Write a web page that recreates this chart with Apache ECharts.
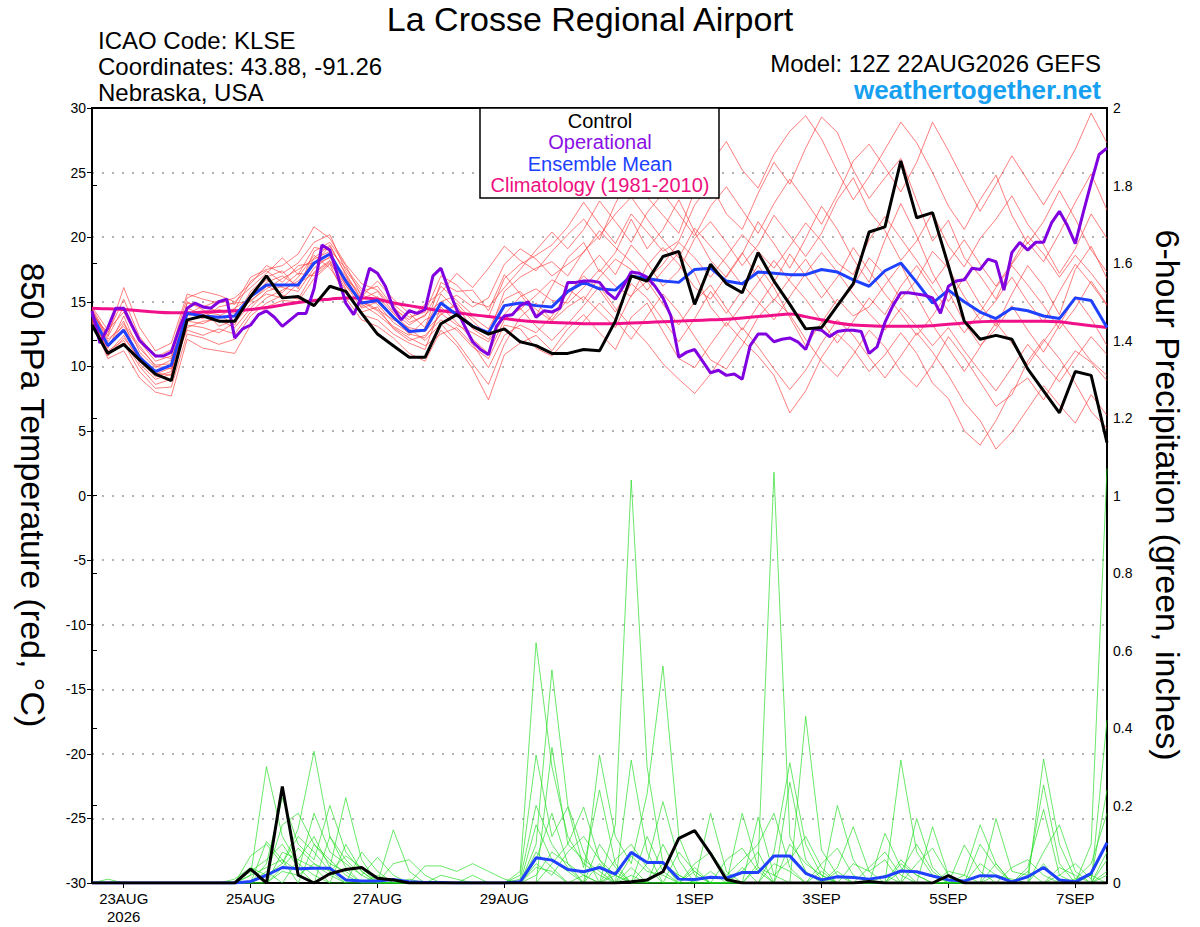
<!DOCTYPE html>
<html>
<head>
<meta charset="utf-8">
<title>La Crosse Regional Airport - GEFS 850 hPa</title>
<script src="https://cdn.jsdelivr.net/npm/echarts@6/dist/echarts.min.js"></script>
<style>
  html, body { margin: 0; padding: 0; background: #fff; }
  #chart { width: 1200px; height: 927px; }
</style>
</head>
<body>
<div id="chart"></div>
<script>
'use strict'

const FONT = 'Liberation Sans, Arial, Helvetica, sans-serif'

// forecast hours from 12Z 22AUG2026, GEFS every 6 h, operational every 3 h
const GEFS_STEP = 6
const OPER_STEP = 3
const TICK_HOURS = [12, 60, 108, 156, 228, 276, 324, 372]
const TICK_LABELS = ['23AUG\n2026', '25AUG', '27AUG', '29AUG', '1SEP', '3SEP', '5SEP', '7SEP']

// 850 hPa temperature (C)
const controlTemp = [
  13.2, 11.0, 11.7, 10.5, 9.4, 8.9, 13.6, 13.9, 13.5, 13.5,
  15.4, 17.0, 15.3, 15.4, 14.7, 16.2, 15.8, 14.1, 12.5, 11.6,
  10.7, 10.7, 13.3, 14.0, 13.1, 12.5, 12.9, 11.9, 11.6, 11.0,
  11.0, 11.3, 11.2, 13.5, 17.0, 16.6, 18.5, 18.9, 14.8, 17.9,
  16.4, 15.7, 18.8, 16.6, 14.8, 12.9, 13.0, 14.7, 16.4, 20.4,
  20.8, 25.9, 21.5, 21.9, 17.8, 13.5, 12.1, 12.4, 12.1, 9.8,
  8.1, 6.4, 9.6, 9.3, 4.1
]
const operationalTemp = [
  14.3, 11.8, 13.0, 14.5, 14.5, 13.2, 12.0, 11.4, 10.8, 10.8,
  11.1, 12.9, 14.5, 14.9, 14.6, 14.5, 15.0, 15.2, 12.2, 12.9,
  13.2, 14.0, 14.3, 13.8, 13.1, 13.6, 14.1, 14.1, 16.0, 19.4,
  19.0, 17.0, 14.9, 14.0, 15.4, 17.6, 17.2, 16.2, 14.5, 13.6,
  14.3, 14.1, 14.4, 17.0, 17.6, 15.9, 14.4, 13.1, 11.9, 11.3,
  10.9, 13.1, 13.9, 14.0, 14.7, 15.0, 13.8, 14.3, 14.2, 14.5,
  16.5, 16.5, 16.6, 16.6, 16.5, 15.7, 15.2, 16.2, 17.3, 17.2,
  16.9, 16.2, 15.3, 13.9, 10.7, 11.1, 11.3, 10.4, 9.5, 9.7,
  9.3, 9.4, 9.0, 11.6, 12.5, 12.5, 11.9, 12.1, 12.2, 11.9,
  11.3, 12.9, 12.8, 12.3, 12.7, 12.8, 12.8, 12.7, 11.0, 11.5,
  13.4, 14.7, 15.7, 15.7, 15.6, 15.5, 15.3, 14.1, 16.2, 16.6,
  16.7, 17.6, 17.5, 18.3, 18.1, 15.9, 18.8, 19.6, 19.0, 19.6,
  19.6, 21.1, 22.0, 20.9, 19.5, 21.9, 24.2, 26.4, 26.9
]
const meanTemp = [
  14.0, 11.6, 12.8, 10.7, 9.6, 10.1, 14.1, 13.9, 13.8, 13.9,
  15.4, 16.3, 16.3, 16.3, 18.0, 18.7, 16.6, 14.9, 15.1, 13.8,
  12.7, 12.8, 14.9, 14.0, 13.1, 12.6, 14.7, 14.9, 14.7, 14.6,
  15.8, 16.5, 16.0, 15.9, 17.0, 16.8, 16.6, 16.5, 17.5, 17.6,
  16.6, 16.4, 17.3, 17.2, 17.1, 17.1, 17.5, 17.3, 16.7, 16.2,
  17.4, 18.0, 16.5, 14.9, 15.9, 15.0, 14.2, 13.7, 14.5, 14.3,
  13.9, 13.7, 15.3, 15.1, 13.0
]
const climoTemp = [
  14.5, 14.45, 14.4, 14.3, 14.2, 14.15, 14.15, 14.2, 14.25, 14.3,
  14.4, 14.55, 14.75, 14.95, 15.1, 15.2, 15.3, 15.3, 15.2, 14.9,
  14.7, 14.5, 14.3, 14.15, 14.0, 13.85, 13.7, 13.55, 13.45, 13.4,
  13.35, 13.3, 13.3, 13.3, 13.35, 13.4, 13.45, 13.5, 13.55, 13.6,
  13.65, 13.75, 13.85, 13.95, 14.05, 13.85, 13.6, 13.35, 13.2, 13.15,
  13.1, 13.1, 13.1, 13.15, 13.25, 13.35, 13.45, 13.5, 13.5, 13.5,
  13.5, 13.45, 13.3, 13.15, 13.0
]

// ensemble members, 850 hPa temperature
const t01 = [
  14.2, 12.4, 16.1, 13.0, 11.2, 11.8, 15.6, 15.2, 14.9, 15.3,
  16.4, 17.8, 17.2, 18.0, 19.6, 20.2, 17.4, 15.8, 16.2, 14.6,
  13.4, 13.9, 16.2, 15.1, 14.0, 13.8, 16.8, 17.9, 18.6, 19.4,
  20.8, 22.7, 21.0, 19.5, 21.8, 20.4, 18.9, 19.7, 22.5, 24.1,
  21.8, 20.6, 23.4, 25.8, 24.1, 26.9, 29.3, 28.1, 25.2, 23.0,
  24.6, 26.1, 22.8, 19.7, 21.3, 18.4, 17.0, 15.2, 17.9, 19.6,
  18.1, 20.3, 22.7, 24.9, 22.1
]
const t02 = [
  13.5, 10.6, 11.2, 9.1, 8.0, 7.7, 12.1, 11.4, 11.2, 11.0,
  13.2, 14.6, 15.1, 15.0, 16.8, 17.9, 15.3, 13.6, 13.1, 12.2,
  11.0, 10.4, 12.8, 11.6, 9.8, 7.4, 10.9, 11.8, 12.4, 11.2,
  12.9, 14.0, 12.6, 11.3, 13.8, 14.9, 12.7, 10.6, 9.9, 11.7,
  13.4, 12.0, 10.8, 9.3, 6.4, 8.1, 10.7, 12.5, 11.3, 9.6,
  10.9, 12.6, 11.0, 8.7, 7.5, 5.0, 3.9, 5.8, 8.2, 9.1,
  7.4, 9.5, 11.2, 10.3, 8.9
]
const t03 = [
  14.4, 11.9, 13.5, 10.2, 9.0, 9.4, 15.0, 14.4, 13.1, 13.6,
  15.8, 16.9, 17.4, 16.0, 18.9, 19.6, 17.8, 15.4, 16.6, 15.2,
  14.1, 13.0, 16.5, 15.8, 15.9, 14.3, 17.1, 15.6, 13.9, 16.2,
  18.4, 19.6, 17.3, 18.8, 21.4, 19.1, 20.6, 22.9, 20.4, 18.2,
  16.9, 18.7, 21.2, 19.5, 17.6, 19.9, 22.4, 20.6, 18.3, 16.5,
  19.8, 22.6, 20.1, 17.2, 15.0, 16.9, 14.8, 13.1, 15.6, 17.8,
  16.2, 14.0, 17.5, 19.3, 16.8
]
const t04 = [
  13.8, 11.2, 12.0, 10.0, 8.6, 9.0, 13.2, 13.0, 12.6, 13.4,
  14.8, 15.6, 15.3, 16.4, 17.2, 18.1, 16.0, 14.2, 14.6, 12.9,
  12.0, 12.4, 13.6, 12.8, 11.5, 10.6, 13.2, 12.9, 11.4, 10.8,
  12.2, 13.5, 14.9, 13.6, 12.1, 13.9, 15.6, 14.2, 12.3, 10.5,
  9.8, 11.6, 13.8, 15.2, 14.0, 12.1, 10.4, 9.2, 10.9, 12.8,
  11.5, 9.6, 8.4, 10.1, 12.3, 10.7, 8.8, 6.9, 7.8, 10.4,
  12.1, 10.6, 8.7, 6.5, 5.2
]
const t05 = [
  14.6, 12.8, 14.2, 11.9, 10.4, 10.8, 14.9, 14.6, 15.1, 14.8,
  16.9, 17.5, 17.8, 18.7, 20.8, 19.9, 17.9, 16.4, 15.9, 14.5,
  13.6, 14.8, 15.7, 17.2, 16.1, 17.6, 19.3, 18.2, 17.4, 18.9,
  20.2, 21.4, 19.8, 22.6, 24.9, 23.1, 21.7, 20.3, 23.6, 25.7,
  27.4, 25.2, 23.8, 26.4, 28.2, 29.4, 27.6, 25.1, 22.9, 24.7,
  26.8, 28.9, 27.3, 25.0, 22.4, 20.6, 22.9, 24.8, 21.7, 19.5,
  21.2, 23.6, 21.4, 19.0, 17.3
]
const t06 = [
  13.6, 11.4, 13.9, 11.1, 9.9, 10.5, 14.5, 14.0, 14.4, 14.1,
  15.1, 16.0, 16.8, 17.5, 18.3, 18.9, 16.2, 15.0, 14.3, 13.1,
  12.4, 13.6, 14.2, 14.7, 12.9, 12.1, 14.0, 15.4, 16.0, 15.1,
  14.9, 16.1, 17.5, 16.2, 15.4, 17.8, 19.2, 17.9, 16.1, 15.2,
  17.0, 18.8, 16.9, 15.1, 16.8, 18.3, 16.4, 14.7, 16.2, 18.4,
  17.1, 15.2, 16.7, 18.9, 17.6, 15.4, 13.6, 15.1, 16.9, 15.0,
  13.4, 15.8, 17.9, 16.4, 14.7
]
const t07 = [
  14.1, 11.0, 12.4, 10.4, 9.2, 9.6, 13.9, 14.2, 14.0, 13.2,
  15.6, 16.7, 16.1, 15.8, 17.6, 18.5, 17.0, 14.6, 15.4, 14.1,
  12.9, 12.0, 13.3, 11.9, 10.2, 8.6, 11.7, 13.8, 14.9, 13.6,
  15.2, 17.3, 18.6, 17.1, 19.4, 18.0, 16.2, 17.4, 19.9, 21.2,
  19.6, 17.8, 19.4, 21.7, 20.1, 18.5, 20.3, 22.9, 24.6, 22.0,
  20.5, 18.2, 19.7, 21.9, 19.3, 17.7, 19.9, 21.4, 23.2, 21.0,
  19.4, 17.2, 19.1, 21.8, 19.9
]
const t08 = [
  13.9, 11.7, 12.9, 10.9, 9.4, 9.9, 12.8, 12.4, 12.9, 12.5,
  14.2, 15.3, 15.9, 16.6, 17.9, 18.4, 16.8, 15.6, 14.8, 13.4,
  12.6, 12.9, 15.6, 14.4, 13.8, 12.9, 15.2, 15.8, 14.4, 13.5,
  14.6, 15.4, 14.2, 13.0, 15.5, 16.6, 14.8, 13.2, 15.0, 16.3,
  14.5, 12.8, 14.7, 16.5, 18.7, 17.0, 15.3, 16.9, 19.2, 17.4,
  15.6, 14.1, 12.4, 13.9, 15.8, 13.4, 11.6, 12.9, 14.7, 12.8,
  11.1, 13.2, 15.4, 13.7, 11.6
]
const t09 = [
  14.3, 12.1, 13.1, 11.4, 10.1, 10.2, 14.2, 13.7, 14.6, 14.9,
  15.0, 16.2, 15.7, 16.9, 18.6, 17.6, 15.9, 14.0, 13.6, 12.5,
  11.8, 11.3, 14.6, 13.4, 12.1, 11.0, 13.6, 14.5, 13.1, 12.0,
  13.3, 14.7, 16.2, 14.5, 13.1, 11.8, 10.2, 9.0, 7.9, 9.4,
  11.2, 13.0, 11.5, 9.8, 8.2, 9.7, 11.8, 13.6, 12.4, 10.7,
  9.1, 10.8, 12.6, 11.1, 9.3, 7.2, 5.8, 3.6, 4.9, 6.7,
  8.5, 7.0, 5.6, 7.8, 6.2
]
const t10 = [
  14.0, 12.6, 15.2, 12.3, 10.7, 11.3, 15.3, 15.8, 15.5, 15.0,
  16.1, 17.2, 18.4, 17.1, 19.2, 19.0, 17.6, 16.0, 15.3, 14.8,
  13.8, 14.2, 17.0, 16.3, 15.0, 14.6, 16.1, 17.5, 19.0, 20.4,
  19.1, 20.6, 22.8, 21.2, 19.6, 21.9, 23.4, 21.8, 20.1, 22.4,
  23.9, 22.1, 20.3, 22.6, 24.5, 22.8, 21.0, 23.3, 25.9, 27.2,
  25.4, 23.5, 25.8, 28.9, 26.7, 24.3, 22.0, 24.1, 26.3, 24.4,
  22.5, 24.6, 26.8, 29.6, 27.3
]
const t11 = [
  13.7, 10.9, 11.8, 9.6, 8.3, 8.4, 12.5, 12.2, 11.7, 12.1,
  13.9, 14.9, 15.5, 15.2, 17.3, 18.2, 16.5, 14.8, 14.0, 13.0,
  12.2, 11.6, 12.5, 13.0, 11.7, 9.9, 12.4, 13.2, 12.6, 13.9,
  15.7, 17.0, 15.9, 14.2, 16.4, 15.3, 13.6, 11.9, 13.7, 15.8,
  14.1, 15.9, 17.8, 16.1, 13.8, 11.6, 13.4, 15.2, 13.9, 14.6,
  16.3, 17.9, 15.4, 13.2, 11.4, 9.6, 11.5, 13.4, 11.8, 10.1,
  11.9, 13.6, 12.0, 10.4, 9.3
]
const t12 = [
  14.5, 12.3, 14.6, 12.1, 10.9, 10.6, 14.0, 14.7, 14.2, 14.4,
  16.6, 17.4, 16.5, 17.8, 18.0, 19.3, 17.2, 15.2, 15.8, 14.2,
  13.2, 14.0, 15.0, 15.5, 14.6, 15.3, 17.9, 19.1, 18.3, 17.0,
  17.9, 18.8, 20.5, 19.2, 18.1, 16.7, 17.9, 19.6, 18.4, 16.9,
  18.5, 20.2, 18.9, 17.6, 19.3, 21.1, 19.7, 18.0, 17.1, 19.8,
  21.6, 19.9, 18.2, 16.4, 18.1, 19.8, 17.9, 16.2, 18.0, 20.1,
  18.7, 16.9, 18.6, 17.2, 15.6
]
const t13 = [
  14.2, 11.5, 13.3, 11.6, 10.0, 9.8, 13.5, 13.3, 13.9, 14.5,
  15.3, 16.5, 17.0, 16.2, 18.4, 19.4, 17.1, 15.1, 14.4, 13.6,
  13.0, 12.7, 14.0, 14.9, 13.5, 12.4, 15.8, 16.9, 17.6, 18.1,
  17.0, 18.9, 20.1, 21.8, 23.1, 21.4, 19.8, 18.4, 20.7, 19.3,
  17.9, 16.3, 15.0, 13.6, 15.4, 17.2, 18.8, 17.3, 15.6, 14.1,
  12.8, 14.5, 13.1, 11.6, 13.0, 11.2, 9.6, 8.1, 9.9, 11.7,
  10.2, 8.8, 10.6, 12.3, 10.9
]
const t14 = [
  13.4, 10.8, 12.2, 10.6, 9.5, 9.3, 13.0, 13.5, 13.6, 13.0,
  14.5, 15.8, 16.2, 17.2, 17.0, 18.0, 16.3, 14.5, 15.0, 13.8,
  12.5, 12.2, 14.1, 13.2, 12.6, 11.9, 13.8, 14.4, 15.5, 16.7,
  16.0, 15.1, 16.9, 18.3, 17.5, 15.9, 17.4, 18.8, 17.2, 14.6,
  13.1, 14.8, 16.5, 18.2, 16.6, 15.2, 13.5, 11.8, 13.5, 15.3,
  14.0, 16.2, 17.8, 16.0, 14.3, 12.6, 14.2, 16.1, 17.8, 16.3,
  14.7, 12.9, 14.5, 16.6, 14.8
]
const TEMP_MEMBERS = [t01, t02, t03, t04, t05, t06, t07, t08, t09, t10, t11, t12, t13, t14]

// 6-hour precipitation (inches)
const controlPrecip = [
  0, 0, 0, 0, 0, 0, 0, 0, 0, 0,
  0.036, 0, 0.249, 0.02, 0, 0.024, 0.035, 0.04, 0.012, 0.008,
  0, 0, 0, 0, 0, 0, 0, 0, 0, 0,
  0, 0, 0, 0, 0.003, 0.008, 0.029, 0.115, 0.135, 0.076,
  0.009, 0, 0, 0, 0, 0, 0, 0, 0, 0.004,
  0, 0, 0, 0, 0.019, 0, 0, 0, 0, 0,
  0, 0, 0, 0, 0
]
const meanPrecip = [
  0, 0, 0, 0, 0, 0, 0, 0, 0, 0,
  0.004, 0.02, 0.04, 0.037, 0.038, 0.038, 0.008, 0.005, 0.005, 0.009,
  0.003, 0.001, 0.001, 0, 0, 0, 0, 0.003, 0.065, 0.059,
  0.035, 0.029, 0.04, 0.023, 0.079, 0.053, 0.053, 0.01, 0.009, 0.015,
  0.013, 0.027, 0.027, 0.07, 0.07, 0.025, 0.008, 0.016, 0.014, 0.01,
  0.016, 0.031, 0.029, 0.018, 0.008, 0.005, 0.019, 0.018, 0.003, 0.016,
  0.04, 0.008, 0.003, 0.025, 0.104
]

// ensemble members, 6-hour precipitation
const p01 = [
  0, 0.01, 0, 0, 0, 0, 0, 0, 0, 0,
  0.02, 0.30, 0.12, 0.05, 0.02, 0, 0, 0, 0, 0,
  0, 0, 0, 0, 0, 0, 0, 0.03, 0.62, 0.30,
  0.12, 0.05, 0.02, 0, 0.04, 0, 0.10, 0.02, 0, 0,
  0, 0.04, 0, 0.08, 0.31, 0.10, 0.02, 0, 0, 0,
  0, 0.05, 0.02, 0, 0, 0, 0, 0, 0, 0,
  0.32, 0.10, 0.01, 0.05, 0.18
]
const p02 = [
  0, 0, 0, 0, 0, 0, 0, 0, 0, 0,
  0.07, 0.10, 0.05, 0.14, 0.34, 0.12, 0.04, 0, 0.02, 0,
  0, 0, 0, 0, 0, 0, 0, 0, 0.10, 0.55,
  0.20, 0.08, 0, 0.02, 0, 0.05, 0.21, 0.06, 0, 0,
  0, 0, 0.17, 0.02, 0, 0, 0, 0.20, 0.06, 0,
  0, 0, 0, 0, 0, 0.02, 0.15, 0.05, 0, 0,
  0, 0, 0, 0.10, 1.07
]
const p03 = [
  0, 0, 0, 0, 0, 0, 0, 0, 0, 0,
  0, 0.05, 0.22, 0.10, 0.06, 0.20, 0.08, 0.03, 0, 0,
  0, 0, 0, 0, 0, 0, 0, 0, 0.02, 0.08,
  0.05, 0, 0, 0.15, 1.04, 0.30, 0.05, 0, 0, 0.18,
  0.03, 0, 0, 0, 0, 0, 0, 0.04, 0.145, 0.03,
  0, 0, 0, 0.145, 0.02, 0, 0, 0, 0, 0,
  0, 0.04, 0.02, 0, 0
]
const p04 = [
  0, 0, 0, 0, 0, 0, 0, 0, 0, 0.01,
  0.04, 0.02, 0.15, 0.18, 0.10, 0.06, 0.02, 0, 0, 0.137,
  0.03, 0, 0, 0, 0, 0, 0, 0.02, 0.33, 0.12,
  0.196, 0.04, 0.24, 0.05, 0, 0, 0, 0, 0.03, 0,
  0, 0, 0.05, 1.06, 0.12, 0.03, 0, 0, 0, 0,
  0.128, 0.04, 0, 0, 0, 0, 0, 0.166, 0.03, 0.02,
  0.253, 0.05, 0, 0, 0.42
]
const p05 = [
  0, 0, 0, 0, 0, 0, 0, 0, 0, 0,
  0, 0, 0.08, 0.06, 0.12, 0.04, 0.22, 0.06, 0, 0,
  0, 0.044, 0.044, 0.03, 0.05, 0.03, 0.01, 0, 0, 0.35,
  0.10, 0.196, 0.06, 0, 0.317, 0.08, 0, 0, 0, 0,
  0, 0.18, 0.04, 0, 0, 0.43, 0.085, 0.02, 0, 0,
  0, 0.317, 0.08, 0.02, 0, 0, 0, 0, 0, 0.04,
  0.19, 0.02, 0, 0, 0
]
const p06 = [
  0, 0, 0, 0, 0, 0, 0, 0, 0, 0,
  0, 0.107, 0.06, 0.03, 0.18, 0.08, 0.05, 0.02, 0.066, 0.02,
  0, 0, 0, 0, 0, 0, 0, 0, 0.15, 0.06,
  0.03, 0, 0.33, 0.12, 0.05, 0.23, 0.56, 0.12, 0.02, 0,
  0, 0, 0, 0, 0.26, 0.06, 0.01, 0, 0, 0,
  0, 0, 0.166, 0.04, 0, 0, 0.05, 0.02, 0, 0,
  0, 0, 0.01, 0.02, 0.10
]
const p07 = [
  0, 0, 0, 0, 0, 0, 0, 0, 0, 0,
  0.03, 0.06, 0.10, 0.04, 0, 0.12, 0.06, 0.02, 0, 0,
  0, 0, 0, 0, 0, 0, 0, 0, 0.05, 0.02,
  0.08, 0.12, 0.06, 0.02, 0, 0, 0, 0, 0.05, 0.08,
  0.02, 0.06, 0.10, 0.18, 0.04, 0, 0, 0, 0.05, 0.03,
  0.06, 0, 0, 0, 0, 0.098, 0.03, 0, 0, 0,
  0.08, 0.15, 0.03, 0, 0.06
]
const p08 = [
  0, 0, 0, 0, 0, 0, 0, 0, 0, 0,
  0, 0, 0.04, 0.09, 0.05, 0.03, 0.07, 0.04, 0, 0.05,
  0.06, 0.02, 0, 0, 0, 0, 0, 0, 0.06, 0.18,
  0.05, 0.02, 0, 0.06, 0.10, 0.04, 0, 0.08, 0.03, 0,
  0, 0, 0, 0, 0.10, 0.05, 0.02, 0, 0, 0.04,
  0.08, 0.02, 0, 0, 0, 0, 0.10, 0.04, 0, 0,
  0, 0, 0, 0, 0.08
]
const p09 = [
  0, 0, 0, 0, 0, 0, 0, 0, 0, 0,
  0, 0.02, 0.05, 0.12, 0.08, 0.03, 0, 0.08, 0.03, 0,
  0, 0, 0, 0, 0, 0, 0, 0.01, 0.20, 0.10,
  0.04, 0, 0.10, 0.04, 0, 0.12, 0.03, 0, 0, 0,
  0.06, 0.09, 0.03, 0, 0, 0, 0.05, 0.09, 0.02, 0,
  0, 0, 0.05, 0.09, 0.02, 0, 0, 0, 0.04, 0.06,
  0.02, 0, 0, 0, 0.03
]
const p10 = [
  0, 0, 0, 0, 0, 0, 0, 0, 0, 0,
  0.02, 0.04, 0.06, 0, 0.10, 0.05, 0.03, 0, 0, 0,
  0.01, 0, 0.02, 0.01, 0, 0, 0, 0, 0, 0.05,
  0.10, 0.06, 0.03, 0, 0.07, 0.03, 0.02, 0, 0, 0,
  0, 0, 0.04, 0.02, 0.06, 0.12, 0.04, 0, 0, 0,
  0, 0.03, 0.10, 0.03, 0, 0, 0, 0.02, 0.01, 0,
  0, 0.02, 0.05, 0.01, 0.24
]
const p11 = [
  0, 0, 0, 0, 0, 0, 0, 0, 0, 0,
  0, 0, 0.03, 0.02, 0.05, 0.02, 0, 0, 0, 0,
  0, 0, 0, 0, 0, 0, 0, 0, 0.04, 0.03,
  0, 0.02, 0, 0.03, 0, 0, 0.05, 0.02, 0, 0.03,
  0, 0, 0, 0.05, 0.03, 0, 0, 0.03, 0, 0,
  0.02, 0, 0, 0, 0.03, 0.02, 0, 0, 0, 0,
  0.05, 0, 0, 0, 0.02
]
const p12 = [
  0, 0, 0, 0, 0, 0, 0, 0, 0, 0,
  0, 0.03, 0, 0.06, 0.04, 0, 0.10, 0.03, 0, 0,
  0, 0, 0, 0, 0.02, 0, 0, 0, 0.08, 0.04,
  0, 0, 0.05, 0, 0.02, 0, 0, 0, 0.04, 0,
  0, 0.03, 0.08, 0, 0, 0, 0.03, 0, 0, 0,
  0, 0.06, 0.02, 0, 0, 0, 0, 0.05, 0, 0.03,
  0, 0, 0, 0.02, 0
]
const PRECIP_MEMBERS = [p01, p02, p03, p04, p05, p06, p07, p08, p09, p10, p11, p12]

function atHours (values, step) {
  return values.map((v, i) => [i * step, v])
}

function thinLine (values, color, yAxisIndex) {
  return {
    type: 'line',
    yAxisIndex,
    data: atHours(values, GEFS_STEP),
    showSymbol: false,
    silent: true,
    z: 1,
    lineStyle: { color, width: 0.8, opacity: 0.85 }
  }
}

function thickLine (values, step, color, yAxisIndex, z, smooth) {
  return {
    type: 'line',
    yAxisIndex,
    data: atHours(values, step),
    showSymbol: false,
    silent: true,
    smooth: smooth || false,
    z,
    lineStyle: { color, width: 3 }
  }
}

const series = []
TEMP_MEMBERS.forEach(m => series.push(thinLine(m, '#ff4040', 0)))
PRECIP_MEMBERS.forEach(m => series.push(thinLine(m, '#22dd22', 1)))
series.push(thickLine(climoTemp, GEFS_STEP, '#f0108a', 0, 3, 0.4))
series.push(thickLine(meanTemp, GEFS_STEP, '#2040ff', 0, 4))
series.push(thickLine(meanPrecip, GEFS_STEP, '#2040ff', 1, 4))
series.push(thickLine(operationalTemp, OPER_STEP, '#8000e0', 0, 5))
series.push(thickLine(controlTemp, GEFS_STEP, '#000000', 0, 6))
series.push(thickLine(controlPrecip, GEFS_STEP, '#000000', 1, 6))

function headerText (text, x, y, opts) {
  return {
    type: 'text',
    x,
    y,
    z: 100,
    style: Object.assign({
      text,
      fill: '#000',
      font: '24px ' + FONT,
      textAlign: 'left',
      textVerticalAlign: 'middle'
    }, opts || {})
  }
}

const legendLines = [
  ['Control', '#000000'],
  ['Operational', '#8a10e6'],
  ['Ensemble Mean', '#2040ff'],
  ['Climatology (1981-2010)', '#ee1080']
]

const graphics = [
  headerText('La Crosse Regional Airport', 590, 19, { font: '34px ' + FONT, textAlign: 'center' }),
  headerText('ICAO Code: KLSE', 98, 40),
  headerText('Coordinates: 43.88, -91.26', 98, 66),
  headerText('Nebraska, USA', 98, 92),
  headerText('Model: 12Z 22AUG2026 GEFS', 1101, 63, { textAlign: 'right' }),
  headerText('weathertogether.net', 1101, 90, { font: 'bold 26px ' + FONT, fill: '#18a0f0', textAlign: 'right' }),
  {
    type: 'text',
    x: 33,
    y: 495,
    rotation: -Math.PI / 2,
    style: {
      text: '850 hPa Temperature (red, \u00b0C)',
      font: '34px ' + FONT,
      fill: '#000',
      textAlign: 'center',
      textVerticalAlign: 'middle'
    }
  },
  {
    type: 'text',
    x: 1168,
    y: 495,
    rotation: -Math.PI / 2,
    style: {
      text: '6-hour Precipitation (green, inches)',
      font: '34px ' + FONT,
      fill: '#000',
      textAlign: 'center',
      textVerticalAlign: 'middle'
    }
  },
  {
    type: 'rect',
    z: 100,
    shape: { x: 480, y: 108, width: 239, height: 90 },
    style: { fill: '#fff', stroke: '#000', lineWidth: 1.5 }
  }
]
legendLines.forEach(([text, color], k) => {
  graphics.push(headerText(text, 600, 121 + k * 21.3, {
    font: '20px ' + FONT,
    fill: color,
    textAlign: 'center'
  }))
})

const chart = echarts.init(document.getElementById('chart'), null, { renderer: 'svg' })

const option = {
  animation: false,
  backgroundColor: '#fff',
  textStyle: { fontFamily: FONT },
  grid: {
    left: 92,
    right: 93,
    top: 108,
    bottom: 44,
    containLabel: false,
    outerBoundsMode: 'none',
    show: true,
    borderColor: '#000',
    borderWidth: 2,
    backgroundColor: 'transparent'
  },
  xAxis: [
    {
      type: 'value',
      min: 0,
      max: 384,
      axisLine: { onZero: false, lineStyle: { color: '#000', width: 2 } },
      axisTick: {
        customValues: TICK_HOURS,
        length: 5,
        lineStyle: { color: '#000', width: 1 }
      },
      axisLabel: {
        customValues: TICK_HOURS,
        formatter: v => TICK_LABELS[TICK_HOURS.indexOf(v)] || '',
        color: '#000',
        fontSize: 15,
        lineHeight: 18,
        margin: 6,
        fontFamily: FONT
      },
      splitLine: { show: false }
    },
    {
      // plain top frame line
      type: 'value',
      position: 'top',
      min: 0,
      max: 384,
      axisLine: { onZero: false, lineStyle: { color: '#000', width: 2 } },
      axisTick: { show: false },
      axisLabel: { show: false },
      splitLine: { show: false }
    }
  ],
  yAxis: [
    {
      type: 'value',
      min: -30,
      max: 30,
      interval: 5,
      position: 'left',
      axisLine: { show: true, lineStyle: { color: '#000', width: 2 } },
      axisTick: { show: true, length: 5, lineStyle: { color: '#000' } },
      axisLabel: { color: '#000', fontSize: 14, margin: 6, fontFamily: FONT },
      splitLine: {
        show: true,
        showMinLine: false,
        showMaxLine: false,
        lineStyle: { color: '#9a9a9a', width: 1.5, type: [2, 8] }
      }
    },
    {
      type: 'value',
      min: 0,
      max: 2,
      interval: 0.2,
      position: 'right',
      axisLine: { show: true, lineStyle: { color: '#000', width: 2 } },
      axisTick: { show: true, length: 5, lineStyle: { color: '#000' } },
      axisLabel: {
        color: '#000',
        fontSize: 14,
        margin: 6,
        fontFamily: FONT,
        formatter: v => String(+v.toFixed(1))
      },
      splitLine: { show: false }
    }
  ],
  graphic: graphics,
  series
}

chart.setOption(option)
</script>
</body>
</html>
